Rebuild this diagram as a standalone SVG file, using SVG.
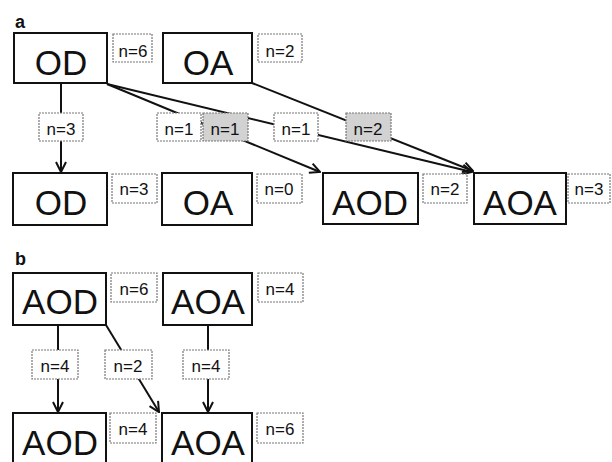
<svg xmlns="http://www.w3.org/2000/svg" width="612" height="462" viewBox="0 0 612 462">
  <style>
    .node rect { fill: #fff; stroke: #111; stroke-width: 2; }
    .node text { font-family: "Liberation Sans", Arial, sans-serif; font-size: 35px; fill: #111; text-anchor: middle; }
    .lbl rect { fill: #fff; stroke: #777; stroke-width: 1.2; stroke-dasharray: 2 1; }
    .lbl.shade rect { fill: #d2d2d2; }
    .lbl text { font-family: "Liberation Sans", Arial, sans-serif; font-size: 17px; fill: #111; text-anchor: middle; }
    .panel { font-family: "Liberation Sans", Arial, sans-serif; font-size: 18px; font-weight: bold; fill: #111; }
    .edges path { fill: none; stroke: #111; stroke-width: 2; marker-end: url(#arrow); }
  </style>
  <defs>
    <marker id="arrow" viewBox="0 0 12 12" refX="11" refY="6" markerWidth="12" markerHeight="12" markerUnits="userSpaceOnUse" orient="auto">
      <path d="M1,1 L11,6 L1,11" fill="none" stroke="#111" stroke-width="2"/>
    </marker>
  </defs>
  <rect width="612" height="462" fill="#fff"/>

  <!-- panel a -->
  <text class="panel" x="15" y="28">a</text>

  <g class="edges" id="edges-a">
    <path d="M61,83 L61,172"/>
    <path d="M107,84 L320,172"/>
    <path d="M107,84 L472,172"/>
    <path d="M252,83 L473,171"/>
  </g>

  <g id="a-top-od" class="node"><rect x="14" y="33" width="93" height="50"/><text x="61" y="75">OD</text></g>
  <g id="a-top-oa" class="node"><rect x="163" y="33" width="89" height="50"/><text x="208" y="75">OA</text></g>
  <g id="a-bot-od" class="node"><rect x="13" y="173" width="94" height="52"/><text x="61" y="215">OD</text></g>
  <g id="a-bot-oa" class="node"><rect x="162" y="173" width="90" height="52"/><text x="208" y="215">OA</text></g>
  <g id="a-bot-aod" class="node"><rect x="323" y="173" width="95" height="51"/><text x="370" y="215">AOD</text></g>
  <g id="a-bot-aoa" class="node"><rect x="474" y="173" width="92" height="51"/><text x="520" y="215">AOA</text></g>

  <g class="lbl"><rect x="113" y="34" width="39" height="28"/><text x="133" y="57">n=6</text></g>
  <g class="lbl"><rect x="258" y="34" width="44" height="28"/><text x="280" y="57">n=2</text></g>
  <g class="lbl"><rect x="39" y="113" width="44" height="28"/><text x="61" y="135">n=3</text></g>
  <g class="lbl"><rect x="157" y="113" width="44" height="28"/><text x="179" y="135">n=1</text></g>
  <g class="lbl shade"><rect x="203" y="113" width="45" height="28"/><text x="225" y="135">n=1</text></g>
  <g class="lbl"><rect x="274" y="113" width="44" height="28"/><text x="296" y="135">n=1</text></g>
  <g class="lbl shade"><rect x="346" y="113" width="45" height="28"/><text x="368" y="135">n=2</text></g>
  <g class="lbl"><rect x="112" y="174" width="45" height="29"/><text x="134" y="195">n=3</text></g>
  <g class="lbl"><rect x="257" y="174" width="45" height="29"/><text x="279" y="195">n=0</text></g>
  <g class="lbl"><rect x="423" y="174" width="44" height="29"/><text x="445" y="195">n=2</text></g>
  <g class="lbl"><rect x="568" y="174" width="42" height="29"/><text x="589" y="195">n=3</text></g>

  <!-- panel b -->
  <text class="panel" x="15" y="265">b</text>

  <g class="edges" id="edges-b">
    <path d="M58,325 L58,412"/>
    <path d="M106,325 L159,412"/>
    <path d="M208,325 L208,412"/>
  </g>

  <g id="b-top-aod" class="node"><rect x="13" y="273" width="93" height="52"/><text x="60" y="314">AOD</text></g>
  <g id="b-top-aoa" class="node"><rect x="163" y="273" width="89" height="52"/><text x="208" y="314">AOA</text></g>
  <g id="b-bot-aod" class="node"><rect x="13" y="413" width="93" height="60"/><text x="60" y="455">AOD</text></g>
  <g id="b-bot-aoa" class="node"><rect x="162" y="413" width="90" height="60"/><text x="208" y="455">AOA</text></g>

  <g class="lbl"><rect x="111" y="273" width="46" height="29"/><text x="134" y="295">n=6</text></g>
  <g class="lbl"><rect x="258" y="273" width="45" height="29"/><text x="280" y="295">n=4</text></g>
  <g class="lbl"><rect x="32" y="350" width="46" height="29"/><text x="55" y="372">n=4</text></g>
  <g class="lbl"><rect x="105" y="350" width="47" height="29"/><text x="128" y="372">n=2</text></g>
  <g class="lbl"><rect x="183" y="350" width="46" height="29"/><text x="206" y="372">n=4</text></g>
  <g class="lbl"><rect x="110" y="413" width="46" height="30"/><text x="133" y="435">n=4</text></g>
  <g class="lbl"><rect x="257" y="413" width="46" height="30"/><text x="280" y="435">n=6</text></g>
</svg>
